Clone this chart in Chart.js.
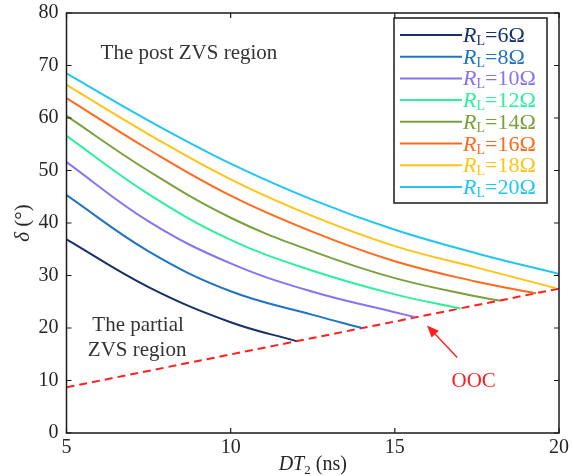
<!DOCTYPE html>
<html>
<head>
<meta charset="utf-8">
<script src="https://cdn.jsdelivr.net/npm/chart.js@4/dist/chart.umd.min.js"></script>
<style>
html,body{margin:0;padding:0;background:#fff;}
#c{display:block;}
</style>
</head>
<body>
<canvas id="c" width="573" height="476"></canvas>
<script>
// ---- data ----
const loadLabels = ['6', '8', '10', '12', '14', '16', '18', '20'];
const rl6X  = [5, 7.5, 10, 12];
const rl6Y  = [36.9, 27.8, 21.1, 17.5];
const rl8X  = [5, 7.5, 10, 12.5, 14];
const rl8Y  = [45.3, 34.6, 27.0, 22.5, 20.0];
const rl10X = [5, 7.5, 10, 12.5, 15, 15.6];
const rl10Y = [51.6, 40.3, 32.3, 26.9, 23.0, 22.1];
const rl12X = [5, 7.5, 10, 12.5, 15, 17];
const rl12Y = [56.6, 45.5, 36.8, 30.9, 26.4, 23.7];
const rl14X = [5, 7.5, 10, 12.5, 15, 17.5, 18.2];
const rl14Y = [60.4, 49.9, 41.0, 34.6, 29.5, 26.0, 25.2];
const rl16X = [5, 7.5, 10, 12.5, 15, 17.5, 19.3];
const rl16Y = [63.8, 54.0, 45.2, 38.3, 32.7, 28.8, 26.6];
const rl18X = [5, 7.5, 10, 12.5, 15, 17.5, 19.9];
const rl18Y = [66.3, 56.9, 48.3, 41.3, 35.6, 31.5, 27.6];
const rl20X = [5, 7.5, 10, 12.5, 15, 17.5, 20];
const rl20Y = [68.5, 59.5, 51.3, 44.4, 38.7, 34.2, 30.3];
const oocX  = [5, 20];
const oocY  = [8.7, 27.5];
const xTicks = [5, 10, 15, 20];
const yTicks = [0, 10, 20, 30, 40, 50, 60, 70, 80];

const seriesX = [rl6X, rl8X, rl10X, rl12X, rl14X, rl16X, rl18X, rl20X];
const seriesY = [rl6Y, rl8Y, rl10Y, rl12Y, rl14Y, rl16Y, rl18Y, rl20Y];
const colors = ['#16306a', '#1f74c4', '#8a72f4', '#2ef09c', '#7ca03c', '#ff6a1c', '#ffc414', '#22c6f3'];

const pts = (xs, ys) => xs.map((x, i) => ({x: x, y: ys[i]}));

const datasets = seriesX.map((xs, i) => ({
  label: 'RL=' + loadLabels[i] + 'Ω',
  data: pts(xs, seriesY[i]),
  borderColor: colors[i],
  borderWidth: 2,
  pointRadius: 0,
  fill: false,
  tension: 0.4
}));
datasets.push({
  label: 'OOC',
  data: pts(oocX, oocY),
  borderColor: '#ff1f1f',
  borderWidth: 2,
  borderDash: [8, 5],
  pointRadius: 0,
  fill: false,
  tension: 0
});

const SERIF = '"Liberation Serif", "Times New Roman", serif';
const TXT = '#262626';

const framePlugin = {
  id: 'frame',
  afterDraw(chart) {
    const ctx = chart.ctx;
    const a = chart.chartArea;
    const xs = chart.scales.x, ys = chart.scales.y;
    ctx.save();
    ctx.strokeStyle = '#1a1a1a';
    ctx.lineWidth = 1.5;
    ctx.strokeRect(a.left, a.top, a.right - a.left, a.bottom - a.top);
    ctx.lineWidth = 1.2;
    const tl = 5;
    ctx.beginPath();
    xTicks.forEach(v => {
      const p = xs.getPixelForValue(v);
      ctx.moveTo(p, a.bottom); ctx.lineTo(p, a.bottom - tl);
      ctx.moveTo(p, a.top); ctx.lineTo(p, a.top + tl);
    });
    yTicks.forEach(v => {
      const p = ys.getPixelForValue(v);
      ctx.moveTo(a.left, p); ctx.lineTo(a.left + tl, p);
      ctx.moveTo(a.right, p); ctx.lineTo(a.right - tl, p);
    });
    ctx.stroke();

    // axis titles
    ctx.fillStyle = TXT;
    ctx.textBaseline = 'alphabetic';
    const fI = 'italic 20px ' + SERIF, fN = '20px ' + SERIF, fS = '13px ' + SERIF;
    ctx.font = fI; const w1 = ctx.measureText('DT').width;
    ctx.font = fS; const w2 = ctx.measureText('2').width;
    ctx.font = fN; const w3 = ctx.measureText(' (ns)').width;
    let cx = (a.left + a.right) / 2 - (w1 + w2 + w3) / 2;
    const by = 470;
    ctx.textAlign = 'left';
    ctx.font = fI; ctx.fillText('DT', cx, by); cx += w1;
    ctx.font = fS; ctx.fillText('2', cx, by + 4); cx += w2;
    ctx.font = fN; ctx.fillText(' (ns)', cx, by);
    ctx.save();
    ctx.translate(29, (a.top + a.bottom) / 2);
    ctx.rotate(-Math.PI / 2);
    ctx.font = 'italic 21px ' + SERIF; const d1 = ctx.measureText('δ').width;
    ctx.font = '21px ' + SERIF; const d2 = ctx.measureText(' (°)').width;
    let dx = -(d1 + d2) / 2;
    ctx.font = 'italic 21px ' + SERIF; ctx.fillText('δ', dx, 0); dx += d1;
    ctx.font = '21px ' + SERIF; ctx.fillText(' (°)', dx, 0);
    ctx.restore();

    // region annotations (placed in data coordinates)
    ctx.font = '21px ' + SERIF;
    ctx.textAlign = 'center';
    ctx.textBaseline = 'middle';
    ctx.fillStyle = '#333';
    ctx.fillText('The post ZVS region', xs.getPixelForValue(8.73), ys.getPixelForValue(72.2));
    ctx.fillText('The partial', xs.getPixelForValue(7.18), ys.getPixelForValue(20.5));
    ctx.fillText('ZVS region', xs.getPixelForValue(7.15), ys.getPixelForValue(15.8));
    ctx.fillStyle = '#ff1f1f';
    ctx.fillText('OOC', xs.getPixelForValue(17.4), ys.getPixelForValue(9.9));
    const tx = xs.getPixelForValue(15.98), ty = ys.getPixelForValue(20.5);
    const sx = xs.getPixelForValue(16.9), sy = ys.getPixelForValue(14.4);
    const ang = Math.atan2(ty - sy, tx - sx);
    ctx.strokeStyle = '#ff1f1f';
    ctx.lineWidth = 1.4;
    ctx.beginPath();
    ctx.moveTo(sx, sy);
    ctx.lineTo(tx - 8 * Math.cos(ang), ty - 8 * Math.sin(ang));
    ctx.stroke();
    ctx.beginPath();
    ctx.moveTo(tx, ty);
    ctx.lineTo(tx - 12 * Math.cos(ang) + 5 * Math.sin(ang), ty - 12 * Math.sin(ang) - 5 * Math.cos(ang));
    ctx.lineTo(tx - 12 * Math.cos(ang) - 5 * Math.sin(ang), ty - 12 * Math.sin(ang) + 5 * Math.cos(ang));
    ctx.closePath();
    ctx.fill();

    // legend
    const L = 394, T = 18, W = 153, H = 185;
    ctx.fillStyle = '#fff';
    ctx.fillRect(L, T, W, H);
    ctx.strokeStyle = '#1a1a1a';
    ctx.lineWidth = 1.5;
    ctx.strokeRect(L, T, W, H);
    const rowH = 21.7, y0 = T + 17;
    ctx.textAlign = 'left';
    ctx.textBaseline = 'alphabetic';
    loadLabels.forEach((lab, i) => {
      const yy = y0 + i * rowH;
      const col = colors[i];
      ctx.strokeStyle = col;
      ctx.lineWidth = 2;
      ctx.beginPath();
      ctx.moveTo(L + 6, yy); ctx.lineTo(L + 68, yy);
      ctx.stroke();
      ctx.fillStyle = col;
      let lx = L + 69;
      const base = yy + 7;
      ctx.font = 'italic 22px ' + SERIF;
      ctx.fillText('R', lx, base); lx += ctx.measureText('R').width;
      ctx.font = '14px ' + SERIF;
      ctx.fillText('L', lx, base + 3); lx += ctx.measureText('L').width;
      ctx.font = '22px ' + SERIF;
      ctx.fillText('=' + lab + 'Ω', lx, base);
    });
    ctx.restore();
  }
};

new Chart(document.getElementById('c'), {
  type: 'line',
  data: {datasets: datasets},
  options: {
    responsive: false,
    animation: false,
    layout: {padding: {left: 0, right: 14, top: 13, bottom: 0}},
    plugins: {legend: {display: false}, tooltip: {enabled: false}},
    scales: {
      x: {
        type: 'linear', min: 5, max: 20,
        afterBuildTicks(s) { s.ticks = xTicks.map(v => ({value: v})); },
        ticks: {font: {family: SERIF, size: 20}, color: TXT, padding: 3, maxRotation: 0},
        grid: {display: false, drawTicks: false},
        border: {display: false},
        afterFit(s) { s.height = 43; s.paddingLeft = 0; s.paddingRight = 0; }
      },
      y: {
        type: 'linear', min: 0, max: 80,
        afterBuildTicks(s) { s.ticks = yTicks.map(v => ({value: v})); },
        ticks: {font: {family: SERIF, size: 20}, color: TXT, padding: 8},
        grid: {display: false, drawTicks: false},
        border: {display: false},
        afterFit(s) { s.width = 66.5; s.paddingTop = 0; s.paddingBottom = 0; }
      }
    }
  },
  plugins: [framePlugin]
});
</script>
</body>
</html>
